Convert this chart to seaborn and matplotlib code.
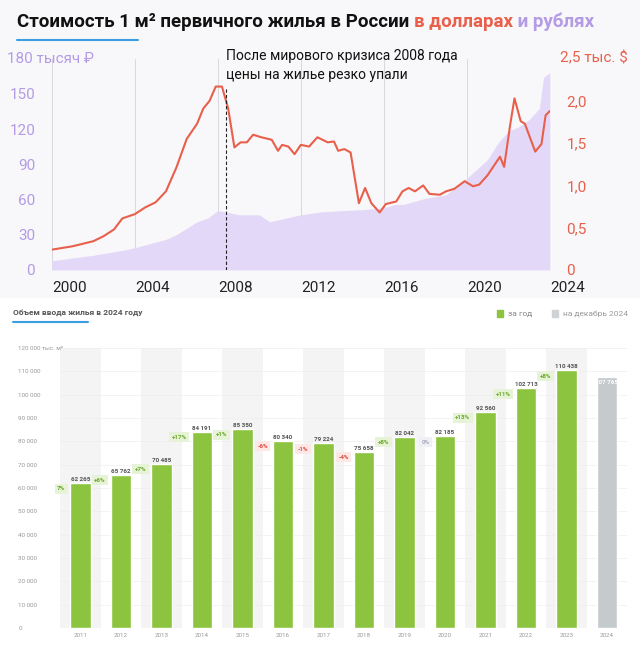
import matplotlib
matplotlib.use("Agg")
import matplotlib.pyplot as plt
import seaborn as sns
import numpy as np
import pandas as pd

sns.set_theme(style="white")
plt.rcParams['font.family'] = ['Roboto', 'DejaVu Sans']

# ---- top chart data ----
rub_years = [2000, 2002, 2003.5, 2004, 2005.5, 2006, 2007, 2007.5, 2008, 2008.5, 2009, 2010, 2010.5, 2011,
             2012, 2013, 2014, 2015, 2016, 2016.5, 2017, 2018, 2019, 2019.5, 2020, 2021, 2021.5, 2022,
             2022.5, 2023, 2023.5, 2023.7, 2024]
rub_vals = [7.8, 12.5, 17, 19, 26, 30, 41, 44, 50.5, 49, 47, 47, 41, 43,
            47, 49.5, 50.5, 51.4, 52.8, 55.6, 56, 61, 64, 71, 78, 94, 108, 118,
            122, 128, 137.5, 164, 168]
usd_years = [2000, 2001, 2002, 2002.5, 2003, 2003.4, 2004, 2004.5, 2005, 2005.5, 2006, 2006.5, 2007, 2007.3,
             2007.6, 2007.9, 2008.2, 2008.5, 2008.8, 2009.1, 2009.4, 2009.7, 2010.1, 2010.6, 2010.9, 2011.1,
             2011.4, 2011.7, 2012.0, 2012.4, 2012.8, 2013.3, 2013.6, 2013.8, 2014.1, 2014.4, 2014.8, 2015.1,
             2015.4, 2015.8, 2016.1, 2016.6, 2016.9, 2017.2, 2017.5, 2017.9, 2018.2, 2018.7, 2019.0, 2019.4,
             2019.9, 2020.3, 2020.6, 2021.0, 2021.6, 2021.8, 2022.1, 2022.3, 2022.6, 2022.8, 2023.3, 2023.6,
             2023.8, 2024.0]
usd_vals = [0.24, 0.28, 0.34, 0.40, 0.48, 0.61, 0.66, 0.74, 0.80, 0.93, 1.21, 1.55, 1.73, 1.91,
            2.0, 2.17, 2.17, 1.91, 1.45, 1.51, 1.51, 1.6, 1.57, 1.54, 1.41, 1.48,
            1.46, 1.37, 1.48, 1.46, 1.57, 1.51, 1.52, 1.41, 1.43, 1.39, 0.79, 0.97,
            0.79, 0.68, 0.78, 0.81, 0.93, 0.97, 0.93, 1.0, 0.9, 0.89, 0.93, 0.96,
            1.05, 0.99, 1.01, 1.12, 1.34, 1.22, 1.73, 2.03, 1.76, 1.73, 1.40, 1.49,
            1.83, 1.88]
top_xticks = [2000, 2004, 2008, 2012, 2016, 2020, 2024]
rub_ticks = [0, 30, 60, 90, 120, 150]
usd_ticks = [0, 0.5, 1.0, 1.5, 2.0]
usd_ticklabels = ["0", "0,5", "1,0", "1,5", "2,0"]

# ---- bottom chart data ----
bar_years = [str(y) for y in range(2011, 2025)]
bar_vals = [62265, 65762, 70485, 84191, 85350, 80340, 79224, 75658, 82042, 82185, 92560, 102713, 110438, 107765]
bar_labels = ["62 265", "65 762", "70 485", "84 191", "85 350", "80 340", "79 224", "75 658", "82 042",
              "82 185", "92 560", "102 713", "110 438", "107 765"]
pct_labels = ["7%", "+6%", "+7%", "+17%", "+1%", "-6%", "-1%", "-4%", "+8%", "0%", "+13%", "+11%", "+8%", ""]
bar_yticks = list(range(0, 120001, 10000))

PURPLE = "#b49be6"
AREA = "#e3d8f7"
RED = "#e8604c"
GREEN = "#8cc43f"
GREY = "#c5cacd"

fig = plt.figure(figsize=(6.4, 6.52), dpi=100)
# top background panel
fig.patches.append(plt.Rectangle((0, 0.545), 1, 0.455, transform=fig.transFigure, color="#f8f8fa", zorder=-10))

ax = fig.add_axes([0.081, 0.586, 0.778, 0.324])
ax.set_facecolor("none")
df_r = pd.DataFrame({"x": rub_years, "y": rub_vals})
ax.fill_between(df_r.x, 0, df_r.y, color=AREA, lw=0)
ax.set_xlim(2000, 2024)
ax.set_ylim(0, 180)
ax.set_yticks(rub_ticks)
ax.tick_params(axis="y", colors=PURPLE, labelsize=11, length=0, pad=12)
ax.set_xticks(top_xticks)
ax.set_xticklabels([str(t) for t in top_xticks], fontsize=11, color="#222")
for lab in ax.get_xticklabels():
    lab.set_horizontalalignment("left")
ax.tick_params(axis="x", length=0, pad=8)
for t in top_xticks[:-1]:
    ax.axvline(t, color="#d8d8de", lw=0.7, zorder=0)
for s in ax.spines.values():
    s.set_visible(False)
ax.text(-0.09, 1.0, "180 тысяч ₽", transform=ax.transAxes, color=PURPLE, fontsize=11, va="center")

ax2 = ax.twinx()
df_u = pd.DataFrame({"x": usd_years, "y": usd_vals})
sns.lineplot(data=df_u, x="x", y="y", ax=ax2, color=RED, lw=1.5)
ax2.set_ylim(0, 2.5)
ax2.set_xlim(2000, 2024)
ax2.set_yticks(usd_ticks)
ax2.set_yticklabels(usd_ticklabels)
ax2.tick_params(axis="y", colors=RED, labelsize=11, length=0, pad=12)
ax2.set_xlabel(""); ax2.set_ylabel("")
for s in ax2.spines.values():
    s.set_visible(False)
ax2.text(1.02, 1.0, "2,5 тыс. $", transform=ax2.transAxes, color=RED, fontsize=11, va="center")
ax2.plot([2008.4, 2008.4], [0, 2.17], color="#222", lw=0.8, ls=(0, (3, 2)))
ax2.text(2008.4, 2.62, "После мирового кризиса 2008 года\nцены на жилье резко упали",
         fontsize=10, color="#111", va="top", ha="left", linespacing=1.5)

# title
renderer = fig.canvas.get_renderer()
x0 = 0.027
parts = [("Стоимость 1 м² первичного жилья в России ", "#111"), ("в долларах", RED), (" и рублях", PURPLE)]
for txt, col in parts:
    t = fig.text(x0, 0.966, txt, fontsize=13.5, fontweight="bold", color=col, va="center")
    bb = t.get_window_extent(renderer)
    x0 += bb.width / fig.bbox.width
fig.add_artist(plt.Line2D([0.027, 0.215], [0.938, 0.938], color="#3a9ee0", lw=1.5))

# bottom chart
fig.text(0.02, 0.52, "Объем ввода жилья в 2024 году", fontsize=6, color="#555", fontweight="bold", va="center")
fig.add_artist(plt.Line2D([0.02, 0.138], [0.506, 0.506], color="#3a9ee0", lw=1.5))
fig.patches.append(plt.Rectangle((0.776, 0.514), 0.01, 0.01, transform=fig.transFigure, color=GREEN))
fig.text(0.793, 0.519, "за год", fontsize=6, color="#888", va="center")
fig.patches.append(plt.Rectangle((0.862, 0.514), 0.01, 0.01, transform=fig.transFigure, color="#cfd3d6"))
fig.text(0.88, 0.519, "на декабрь 2024", fontsize=6, color="#999", va="center")

bx = fig.add_axes([0.094, 0.037, 0.886, 0.429])
dfb = pd.DataFrame({"year": bar_years, "val": bar_vals})
palette = [GREEN] * 13 + [GREY]
sns.barplot(data=dfb, x="year", y="val", hue="year", palette=palette, legend=False, ax=bx, width=0.5, saturation=1)
bx.set_ylim(0, 120000)
bx.set_xlim(-0.5, 13.5)
for i in range(14):
    if i % 2 == 0:
        bx.axvspan(i - 0.5, i + 0.5, color="#f4f4f4", zorder=-5, lw=0)
for y in bar_yticks[1:]:
    bx.axhline(y, color="#eeeeee", lw=0.5, zorder=-4)
bx.set_yticks(bar_yticks)
bx.set_yticklabels(["0"] + [f"{v//1000} 000" for v in bar_yticks[1:-1]] + ["120 000 тыс. м²"], fontsize=4.5, color="#999")
for lab in bx.get_yticklabels():
    lab.set_horizontalalignment("left")
bx.tick_params(axis="y", length=0, pad=30)
bx.tick_params(axis="x", length=0, labelsize=4.5, colors="#999")
bx.set_xlabel(""); bx.set_ylabel("")
for s in bx.spines.values():
    s.set_visible(False)
for i, (v, lab) in enumerate(zip(bar_vals, bar_labels)):
    col = "#555" if i < 13 else "white"
    yy = v + 1500 if i < 13 else v - 2500
    bx.text(i, yy, lab, ha="center", va="center", fontsize=4.5, color=col, fontweight="bold")
    p = pct_labels[i]
    if p:
        if p.startswith("-"):
            fc, tc = "#fde8e6", "#e2463a"
        elif p == "0%":
            fc, tc = "#eef0f6", "#aab"
        else:
            fc, tc = "#e6f3d6", "#6aa82a"
        bx.text(i - 0.37, v - 2500, p, ha="right", va="center", fontsize=4.5, color=tc, fontweight="bold",
                bbox=dict(boxstyle="square,pad=0.4", fc=fc, ec="none"))

fig.savefig("out.png", dpi=100)
